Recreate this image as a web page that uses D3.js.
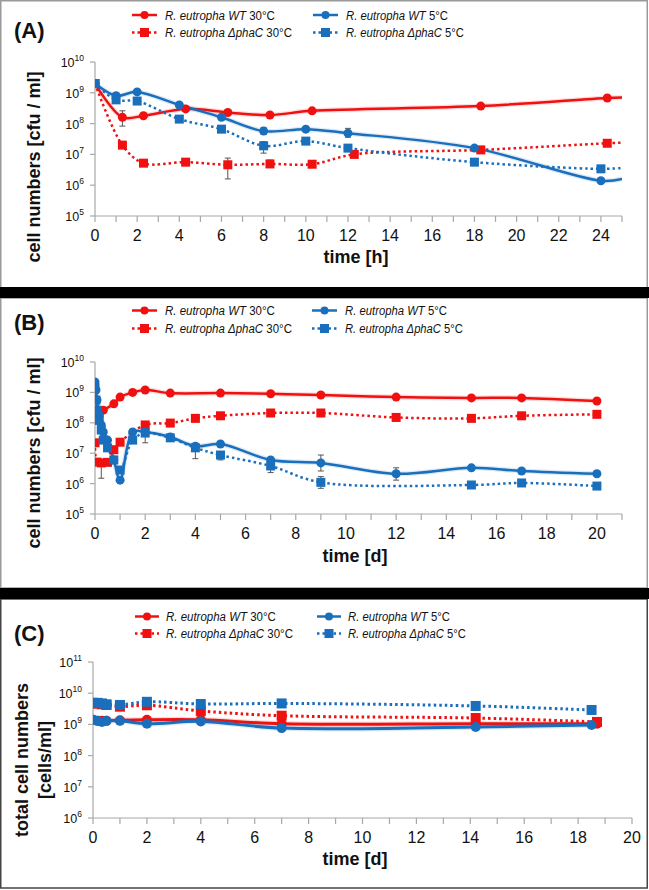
<!DOCTYPE html>
<html><head><meta charset="utf-8">
<script src="https://cdnjs.cloudflare.com/ajax/libs/d3/7.8.5/d3.min.js"></script>
<style>
body{margin:0;background:#fff}
svg{display:block}
text{font-family:"Liberation Sans",Arial,sans-serif;fill:#111}
</style></head>
<body><svg id="c" width="649" height="890"></svg>
<script>
// ---------------- DATA ----------------
// Panel A (time in hours)
const tA_WT30 = [0, 1.3, 2.3, 4.3, 6.3, 8.3, 10.3, 18.3, 24.3];
const vA_WT30 = [2.0e9, 1.6e8, 1.8e8, 3.0e8, 2.3e8, 1.9e8, 2.6e8, 3.7e8, 6.8e8];
const tA_D30  = [0, 1.3, 2.3, 4.3, 6.3, 8.3, 10.3, 12.3, 18.3, 24.3];
const vA_D30  = [2.0e9, 2.0e7, 5.2e6, 5.6e6, 4.6e6, 4.9e6, 4.8e6, 1.0e7, 1.4e7, 2.3e7];
const tA_WT5  = [0, 1, 2, 4, 6, 8, 10, 12, 18, 24];
const vA_WT5  = [2.0e9, 8.0e8, 1.07e9, 4.0e8, 1.6e8, 5.7e7, 6.6e7, 4.9e7, 1.6e7, 1.4e6];
const tA_D5   = [0, 1, 2, 4, 6, 8, 10, 12, 18, 24];
const vA_D5   = [2.0e9, 5.9e8, 5.4e8, 1.4e8, 6.6e7, 1.9e7, 2.7e7, 1.6e7, 5.6e6, 3.4e6];
// values where each curve leaves the plot at the right edge (t = 25 h)
const edgeA   = {WT30: 7.0e8, D30: 2.4e7, WT5: 1.6e6, D5: 3.6e6};
// error bars: [series, t, low, high]
const errA = [["WT30",1.3,8.3e7,2.6e8],["D30",6.3,1.6e6,7.6e6],["D30",8.3,3.8e6,6.5e6],
              ["WT5",8,4.5e7,7.5e7],["D5",8,1.1e7,2.6e7],["WT5",12,3.6e7,7.0e7]];

// Panel B (time in days)
const tB_WT30 = [0, 0.17, 0.33, 0.75, 1, 1.5, 2, 3, 5, 7, 9, 12, 15, 17, 20];
const vB_WT30 = [1.5e8, 2.0e8, 2.6e8, 4.2e8, 7.0e8, 1.0e9, 1.2e9, 9.5e8, 9.5e8, 9.0e8, 8.2e8, 7.0e8, 6.6e8, 6.6e8, 5.2e8];
const tB_D30  = [0, 0.08, 0.25, 0.5, 0.75, 1, 2, 3, 4, 5, 7, 9, 12, 15, 17, 20];
const vB_D30  = [2.2e7, 5.1e6, 4.8e6, 5.0e6, 1.3e7, 2.3e7, 8.5e7, 9.8e7, 1.4e8, 1.7e8, 2.1e8, 2.1e8, 1.5e8, 1.4e8, 1.7e8, 1.9e8];
const tB_WT5  = [0, 0.04, 0.08, 0.17, 0.25, 0.33, 0.5, 0.75, 1, 1.5, 2, 3, 4, 5, 7, 9, 12, 15, 17, 20];
const vB_WT5  = [2.2e9, 1.2e9, 5.6e8, 1.8e8, 8.5e7, 5.0e7, 2.7e7, 6.0e6, 1.3e6, 5.0e7, 5.0e7, 3.4e7, 1.7e7, 2.0e7, 6.0e6, 4.8e6, 2.1e6, 3.3e6, 2.6e6, 2.1e6];
const tB_D5   = [0, 0.04, 0.08, 0.17, 0.25, 0.33, 0.5, 0.75, 1, 1.5, 2, 3, 4, 5, 7, 9, 15, 17, 20];
const vB_D5   = [1.4e9, 5.6e8, 2.6e8, 1.2e8, 5.8e7, 2.7e7, 1.5e7, 6.0e6, 2.8e6, 2.7e7, 4.6e7, 3.2e7, 1.5e7, 8.7e6, 3.8e6, 1.1e6, 9.0e5, 1.05e6, 8.3e5];
const errB = [["D30",0.25,1.5e6,5.0e6],["WT5",9,2.6e6,8.7e6],["D5",9,7.0e5,1.7e6],["D5",4,6.6e6,2.1e7],
              ["WT5",2,2.2e7,6.0e7],["D5",7,2.3e6,4.5e6],["WT5",12,1.3e6,3.3e6],["D5",5,6.0e6,1.1e7]];

// Panel C (time in days)
const tC_red  = [0, 0.17, 0.33, 0.5, 1, 2, 4, 7, 14.2, 18.7];
const tC_blue = [0, 0.17, 0.33, 0.5, 1, 2, 4, 7, 14.2, 18.5];
const vC_WT30 = [1.4e9, 1.3e9, 1.3e9, 1.3e9, 1.35e9, 1.4e9, 1.4e9, 1.05e9, 1.05e9, 1.05e9];
const vC_D30  = [4.9e9, 4.6e9, 4.4e9, 4.2e9, 3.7e9, 4.1e9, 2.7e9, 1.9e9, 1.6e9, 1.2e9];
const vC_WT5  = [1.4e9, 1.3e9, 1.2e9, 1.3e9, 1.3e9, 1.05e9, 1.25e9, 7.6e8, 8.3e8, 9.6e8];
const vC_D5   = [4.9e9, 4.9e9, 4.7e9, 4.4e9, 4.2e9, 5.3e9, 4.5e9, 4.7e9, 3.9e9, 2.9e9];

const xTicksA = d3.range(0, 25, 2), xMinorA = d3.range(0, 26, 1);
const xTicksB = d3.range(0, 21, 2), xMinorB = d3.range(0, 22, 1);
const xTicksC = d3.range(0, 21, 2), xMinorC = d3.range(0, 21, 1);
const expA = [5,6,7,8,9,10], expB = [5,6,7,8,9,10], expC = [6,7,8,9,10,11];

// ---------------- STYLE ----------------
const RED = "#f01010", BLUE = "#1a6fbd", AXIS = "#a8a8a8";
const style = {
  WT30: {c: RED,  dash: false, m: "circle"},
  D30:  {c: RED,  dash: true,  m: "square"},
  WT5:  {c: BLUE, dash: false, m: "circle"},
  D5:   {c: BLUE, dash: true,  m: "square"}
};
const order = ["WT30", "D30", "WT5", "D5"];

const svg = d3.select("#c");

// panel frames and separators
svg.append("rect").attr("x",0.75).attr("y",0.75).attr("width",646.5).attr("height",287)
  .attr("fill","none").attr("stroke","#9a9a9a").attr("stroke-width",1.5);
svg.append("rect").attr("x",0.75).attr("y",298).attr("width",646.5).attr("height",290)
  .attr("fill","none").attr("stroke","#9a9a9a").attr("stroke-width",1.5);
svg.append("rect").attr("x",0.75).attr("y",599).attr("width",646.5).attr("height",289)
  .attr("fill","none").attr("stroke","#444").attr("stroke-width",1.5);
svg.append("rect").attr("x",0).attr("y",287).attr("width",649).attr("height",11).attr("fill","#000");
svg.append("rect").attr("x",0).attr("y",588).attr("width",649).attr("height",11).attr("fill","#000");

function marker(g, kind, cx, cy, col, sz) {
  if (kind === "circle") {
    g.append("circle").attr("cx",cx).attr("cy",cy).attr("r",sz/2).attr("fill",col);
  } else {
    g.append("rect").attr("x",cx-sz/2).attr("y",cy-sz/2).attr("width",sz).attr("height",sz).attr("fill",col);
  }
}

function legend(cfg) {
  const g = svg.append("g");
  const items = [
    {k:"WT30", x:cfg.xr, y:cfg.y1, ital:"R. eutropha WT", rest:" 30°C", w:110},
    {k:"WT5",  x:cfg.xb, y:cfg.y1, ital:"R. eutropha WT", rest:" 5°C", w:102},
    {k:"D30",  x:cfg.xr, y:cfg.y2, ital:"R. eutropha ΔphaC", rest:" 30°C", w:127},
    {k:"D5",   x:cfg.xb, y:cfg.y2, ital:"R. eutropha ΔphaC", rest:" 5°C", w:118}
  ];
  items.forEach(it => {
    const s = style[it.k];
    const cy = it.y - 4.5;
    g.append("line").attr("x1",it.x).attr("x2",it.x+cfg.len).attr("y1",cy).attr("y2",cy)
      .attr("stroke",s.c).attr("stroke-width",2.5)
      .attr("stroke-dasharray", s.dash ? "2.5,3" : null);
    marker(g, s.m, it.x+cfg.len/2, cy, s.c, s.m==="circle"?8:9);
    const tg = g.append("g");
    const t = tg.append("text").attr("x",0).attr("y",0).attr("font-size",13.5);
    t.append("tspan").attr("font-style","italic").text(it.ital);
    t.append("tspan").text(it.rest);
    const natural = t.node().getComputedTextLength();
    const sx = it.w / natural;
    tg.attr("transform", `translate(${it.x+cfg.len+cfg.gap},${it.y}) scale(${sx},1)`);
  });
  svg.append("text").attr("x",cfg.lx).attr("y",cfg.ly).attr("font-size",22).attr("font-weight","bold")
    .text(cfg.title);
}

function panel(p) {
  const x = d3.scaleLinear().domain(p.xd).range(p.xr);
  const y = d3.scaleLog().domain(p.yd).range(p.yr);
  const g = svg.append("g");
  const id = "clip" + p.name;
  svg.append("clipPath").attr("id", id).append("rect")
    .attr("x", p.xr[0]).attr("y", p.yr[1]-10).attr("width", p.xr[1]-p.xr[0]).attr("height", p.yr[0]-p.yr[1]+10);

  // axes
  g.append("line").attr("x1",p.xr[0]).attr("x2",p.xr[1]).attr("y1",p.yr[0]).attr("y2",p.yr[0])
    .attr("stroke",AXIS).attr("stroke-width",1.2);
  g.append("line").attr("x1",p.xr[0]).attr("x2",p.xr[0]).attr("y1",p.yr[0]).attr("y2",p.yr[1])
    .attr("stroke",AXIS).attr("stroke-width",1.2);
  p.minor.forEach(v => g.append("line").attr("x1",x(v)).attr("x2",x(v)).attr("y1",p.yr[0]).attr("y2",p.yr[0]+6)
    .attr("stroke",AXIS).attr("stroke-width",1.2));
  p.ticks.forEach(v => g.append("text").attr("x",x(v)).attr("y",p.yr[0]+25).attr("text-anchor","middle")
    .attr("font-size",16).text(v));
  p.exps.forEach(e => {
    const yy = y(Math.pow(10,e));
    g.append("line").attr("x1",p.xr[0]-5).attr("x2",p.xr[0]).attr("y1",yy).attr("y2",yy)
      .attr("stroke",AXIS).attr("stroke-width",1.2);
    const t = g.append("text").attr("x",p.xr[0]-11).attr("y",yy+5).attr("text-anchor","end").attr("font-size",12.5);
    t.append("tspan").text("10");
    t.append("tspan").attr("font-size",8.5).attr("dy",-6).text(e);
  });
  g.append("text").attr("x",p.xlx).attr("y",p.xly).attr("text-anchor","middle")
    .attr("font-size",18).attr("font-weight","bold").text(p.xlabel);
  p.ylabel.forEach((lab,i) => {
    g.append("text").attr("transform",`translate(${p.ylx[i]},${p.yly}) rotate(-90)`)
      .attr("text-anchor","middle").attr("font-size",18).attr("font-weight","bold").text(lab);
  });

  const plot = g.append("g").attr("clip-path", `url(#${id})`);
  const line = d3.line().x(d=>x(d[0])).y(d=>y(d[1])).curve(d3.curveCatmullRom.alpha(0.5));
  // lines
  order.forEach(k => {
    const s = style[k], ser = p.series[k];
    const pts = ser.t.map((t,i)=>[t, ser.v[i]]);
    if (ser.edge) pts.push([p.xd[1], ser.edge]);
    if (!s.dash) {
      plot.append("path").attr("d", line(pts)).attr("fill","none").attr("stroke",s.c)
        .attr("stroke-opacity",0.15).attr("stroke-width",p.lw+2.5);
    }
    plot.append("path").attr("d", line(pts)).attr("fill","none").attr("stroke",s.c)
      .attr("stroke-width",p.lw).attr("stroke-dasharray", s.dash ? "2.5,3" : null);
  });
  // error bars
  (p.err||[]).forEach(e => {
    const xx = x(e[1]), y1 = y(e[2]), y2 = y(e[3]);
    plot.append("line").attr("x1",xx).attr("x2",xx).attr("y1",y1).attr("y2",y2).attr("stroke","#555").attr("stroke-width",1);
    [y1,y2].forEach(yy => plot.append("line").attr("x1",xx-3).attr("x2",xx+3).attr("y1",yy).attr("y2",yy)
      .attr("stroke","#555").attr("stroke-width",1));
  });
  // markers
  order.forEach(k => {
    const s = style[k], ser = p.series[k];
    ser.t.forEach((t,i) => marker(plot, s.m, x(t), y(ser.v[i]), s.c, s.m==="circle"?p.cs:p.ss));
  });
}

// ---------------- PANELS ----------------
legend({xr:132, xb:313, len:25, gap:8, y1:19.5, y2:37, lx:14, ly:38, title:"(A)"});
panel({name:"A", xd:[0,25], xr:[95,622], yd:[1e5,1e10], yr:[216,62], ticks:xTicksA, minor:xMinorA, exps:expA,
  xlabel:"time [h]", xlx:356, xly:263, ylabel:["cell numbers [cfu / ml]"], ylx:[40], yly:167, lw:2.5, cs:9, ss:9,
  series:{WT30:{t:tA_WT30,v:vA_WT30,edge:edgeA.WT30}, D30:{t:tA_D30,v:vA_D30,edge:edgeA.D30},
          WT5:{t:tA_WT5,v:vA_WT5,edge:edgeA.WT5}, D5:{t:tA_D5,v:vA_D5,edge:edgeA.D5}}, err:errA});

legend({xr:132, xb:312, len:25, gap:8, y1:315, y2:333, lx:14, ly:330, title:"(B)"});
panel({name:"B", xd:[0,21], xr:[95,622], yd:[1e5,1e10], yr:[514,362], ticks:xTicksB, minor:xMinorB, exps:expB,
  xlabel:"time [d]", xlx:355, xly:562, ylabel:["cell numbers [cfu / ml]"], ylx:[40], yly:453, lw:2.5, cs:9, ss:9,
  series:{WT30:{t:tB_WT30,v:vB_WT30}, D30:{t:tB_D30,v:vB_D30}, WT5:{t:tB_WT5,v:vB_WT5}, D5:{t:tB_D5,v:vB_D5}}, err:errB});

legend({xr:135, xb:317, len:24, gap:7, y1:621, y2:638, lx:14, ly:641, title:"(C)"});
panel({name:"C", xd:[0,20], xr:[93,632], yd:[1e6,1e11], yr:[818,662], ticks:xTicksC, minor:xMinorC, exps:expC,
  xlabel:"time [d]", xlx:355, xly:865, ylabel:["total cell numbers","[cells/ml]"], ylx:[28,51], yly:760, lw:3, cs:10, ss:10,
  series:{WT30:{t:tC_red,v:vC_WT30}, D30:{t:tC_red,v:vC_D30}, WT5:{t:tC_blue,v:vC_WT5}, D5:{t:tC_blue,v:vC_D5}}, err:[]});
</script>
</body></html>
